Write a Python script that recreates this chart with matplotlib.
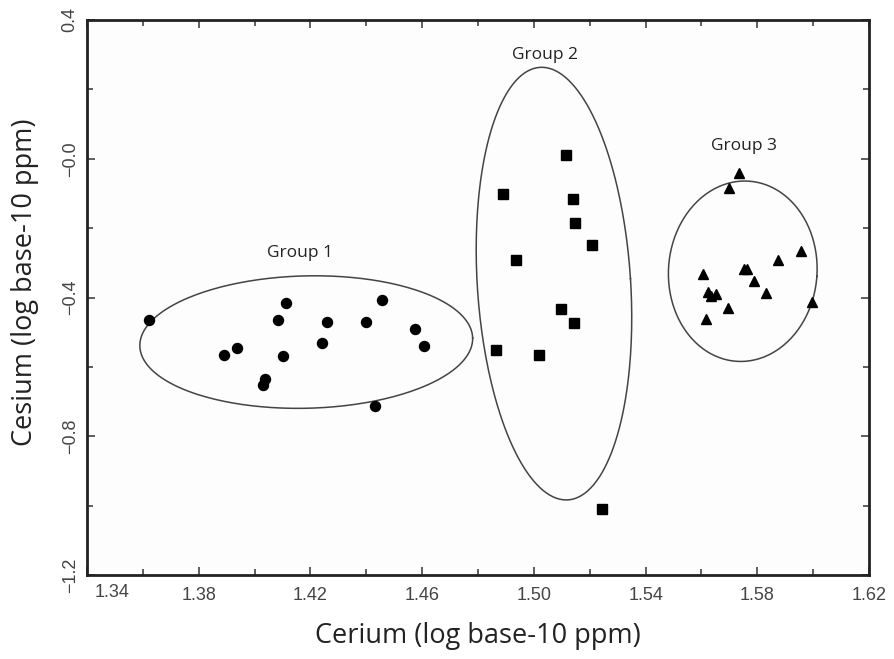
import matplotlib
matplotlib.use("Agg")
import matplotlib.pyplot as plt
import numpy as np
from matplotlib.ticker import MultipleLocator

# Group 1 (circles)
g1_x = [1.3622, 1.4112, 1.4083, 1.4258, 1.4399, 1.4455, 1.4575, 1.4608,
        1.4240, 1.4101, 1.3936, 1.3891, 1.4037, 1.4029, 1.4432]
g1_y = [-0.465, -0.416, -0.465, -0.471, -0.470, -0.407, -0.490, -0.540,
        -0.532, -0.570, -0.545, -0.567, -0.636, -0.652, -0.712]

# Group 2 (squares)
g2_x = [1.5115, 1.4891, 1.5141, 1.5148, 1.5209, 1.4937, 1.5096, 1.5143,
        1.4865, 1.5018, 1.5244]
g2_y = [0.010, -0.101, -0.116, -0.186, -0.250, -0.291, -0.433, -0.473,
        -0.551, -0.565, -1.009]

# Group 3 (triangles)
g3_x = [1.5734, 1.5700, 1.5955, 1.5874, 1.5752, 1.5764, 1.5789, 1.5830,
        1.5604, 1.5622, 1.5634, 1.5652, 1.5694, 1.5615, 1.5997]
g3_y = [-0.040, -0.083, -0.265, -0.292, -0.318, -0.318, -0.353, -0.386,
        -0.333, -0.384, -0.395, -0.391, -0.431, -0.463, -0.414]

# ellipses: centre x, centre y, width (x units), height (y units), angle on screen (deg)
ell_cx = [1.4185, 1.5072, 1.5748]
ell_cy = [-0.5285, -0.360, -0.3243]
ell_w = [0.1192, 0.0549, 0.0532]
ell_h = [0.3816, 1.2496, 0.5205]
ell_ang = [1.4, 3.7, -4.0]

group_names = ['Group 1', 'Group 2', 'Group 3']
label_x = [1.4163, 1.5040, 1.5752]
label_y = [-0.272, 0.299, 0.037]

xmin, xmax = 1.34, 1.62
ymin, ymax = -1.2, 0.4

fig = plt.figure(figsize=(8.94, 6.59), dpi=100)
fig.patch.set_facecolor('white')
ax = fig.add_axes([87 / 894, 84 / 659, 782 / 894, 555 / 659])
ax.set_facecolor('#fdfdfd')
ax.set_xlim(xmin, xmax)
ax.set_ylim(ymin, ymax)

# pixels per data unit, used to draw rotated ellipses correctly on screen
sx = 782 / (xmax - xmin)
sy = 555 / (ymax - ymin)
t = np.linspace(0, 2 * np.pi, 300)
for cx, cy, w, h, ang in zip(ell_cx, ell_cy, ell_w, ell_h, ell_ang):
    th = np.radians(ang)
    u = w / 2 * sx * np.cos(t)
    v = h / 2 * sy * np.sin(t)
    X = u * np.cos(th) - v * np.sin(th)
    Y = u * np.sin(th) + v * np.cos(th)
    ax.plot(cx + X / sx, cy + Y / sy, color='#444444', lw=1.1)

ax.plot(g1_x, g1_y, 'o', color='black', ms=7.2, ls='none')
ax.plot(g2_x, g2_y, 's', color='black', ms=6.5, ls='none')
ax.plot(g3_x, g3_y, '^', color='black', ms=7.2, ls='none')

for name, lx, ly in zip(group_names, label_x, label_y):
    ax.text(lx, ly, name, ha='center', va='center', fontsize=12.5,
            family='Open Sans', color='#222222')

# ticks
ax.xaxis.set_major_locator(MultipleLocator(0.04))
ax.xaxis.set_minor_locator(MultipleLocator(0.02))
ax.yaxis.set_major_locator(MultipleLocator(0.4))
ax.yaxis.set_minor_locator(MultipleLocator(0.2))
ax.tick_params(which='both', direction='in', top=True, right=True,
               width=1.1, color='#333333')
ax.tick_params(which='major', length=6)
ax.tick_params(which='minor', length=4)
ax.tick_params(axis='x', pad=9, labelsize=13, labelcolor='#444444')
ax.tick_params(axis='y', pad=6, labelsize=13, labelcolor='#444444')

xt = np.arange(1.34, 1.6201, 0.04)
ax.set_xticks(xt)
ax.set_xticklabels([''] + [f'{v:.2f}' for v in xt[1:]], family='Liberation Sans')
ax.annotate('1.34', xy=(xmin, 0), xycoords=('data', 'axes fraction'),
            xytext=(25, -9), textcoords='offset pixels', ha='center', va='top',
            fontsize=13, family='Liberation Sans', color='#444444')

yt = [-1.2, -0.8, -0.4, 0.0, 0.4]
ax.set_yticks(yt)
ax.set_yticklabels(['\u22121.2', '\u22120.8', '\u22120.4', '\u22120.0', '0.4'],
                   rotation=90, va='center', family='Liberation Sans')

for s in ax.spines.values():
    s.set_linewidth(2.0)
    s.set_color('#222222')

fig.text(478 / 894, 1 - 636 / 659, 'Cerium (log base-10 ppm)', ha='center',
         va='center', fontsize=19.5, family='Open Sans', color='#222222')
fig.text(25 / 894, 1 - 282 / 659, 'Cesium (log base-10 ppm)', ha='center',
         va='center', rotation=90, fontsize=19.5, family='Open Sans',
         color='#222222')

fig.savefig('out.png', dpi=100)
